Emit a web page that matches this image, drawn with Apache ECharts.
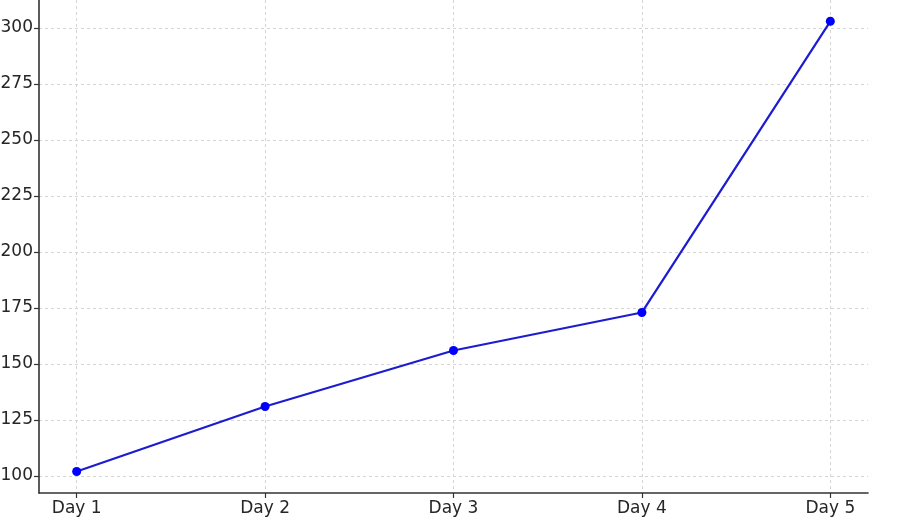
<!DOCTYPE html>
<html>
<head>
<meta charset="utf-8">
<script src="https://cdn.jsdelivr.net/npm/echarts@6/dist/echarts.min.js"></script>
<style>html,body{margin:0;padding:0;background:#fff;}#c{width:900px;height:519px;}</style>
</head>
<body>
<div id="c"></div>
<script>
const categories = ['Day 1', 'Day 2', 'Day 3', 'Day 4', 'Day 5'];
const values = [102, 131, 156, 173, 303];
const yTicks = [100, 125, 150, 175, 200, 225, 250, 275, 300];

const chart = echarts.init(document.getElementById('c'));
const font = 'DejaVu Sans';
chart.setOption({
  animation: false,
  backgroundColor: '#fff',
  grid: { left: 39, right: 32, top: 0, bottom: 26, containLabel: false, outerBoundsMode: 'none' },
  xAxis: {
    type: 'value', min: -0.2, max: 4.2,
    axisLine: { show: true, onZero: false, lineStyle: { color: '#333', width: 1.6 } },
    axisTick: { show: true, length: 5, customValues: categories.map((c, i) => i), lineStyle: { color: '#333', width: 1.2 } },
    axisLabel: { customValues: categories.map((c, i) => i), formatter: v => categories[Math.round(v)], color: '#262626', fontSize: 17, fontFamily: font, margin: 7 },
    splitLine: { show: true, lineStyle: { color: '#d4d4d4', type: [3, 3], width: 1 } }
  },
  yAxis: {
    type: 'value', min: 92.4, max: 312.5,
    axisLine: { show: true, onZero: false, lineStyle: { color: '#333', width: 1.6 } },
    axisTick: { show: true, length: 5, customValues: yTicks, lineStyle: { color: '#333', width: 1.2 } },
    axisLabel: { customValues: yTicks, color: '#262626', fontSize: 17, fontFamily: font, margin: 6 },
    splitLine: { show: true, lineStyle: { color: '#d4d4d4', type: [3, 3], width: 1 } }
  },
  series: [{
    type: 'line',
    data: values.map((v, i) => [i, v]),
    symbol: 'circle', symbolSize: 9,
    lineStyle: { color: '#1c1cd0', width: 2.2 },
    itemStyle: { color: '#0000ff' }
  }]
});
</script>
</body>
</html>
